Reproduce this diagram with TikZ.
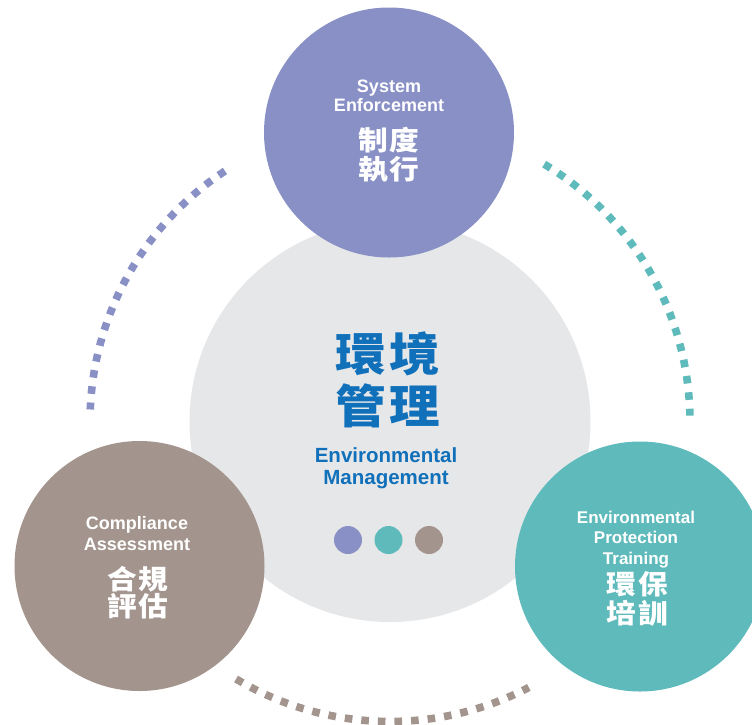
\documentclass[tikz,border=0pt]{standalone}
\usepackage{fontspec}
\setmainfont{Liberation Sans}
\newfontfamily\cjkfont[FakeStretch=1.1]{Noto Sans CJK TC}
\definecolor{ringgray}{HTML}{E6E7E9}
\definecolor{lavender}{HTML}{8890C6}
\definecolor{teal}{HTML}{5FBABB}
\definecolor{taupe}{HTML}{A3958E}
\definecolor{deepblue}{HTML}{1070BA}
\begin{document}
\begin{tikzpicture}[x=1pt,y=-1pt,
  disc/.style={circle, inner sep=0pt, minimum size=250pt},
  en/.style={text=white, anchor=base, inner sep=0pt, font=\bfseries\fontsize{18}{20}\selectfont},
  ensmall/.style={en, font=\bfseries\fontsize{17}{19}\selectfont},
  zh/.style={text=white, anchor=center, inner sep=0pt, font=\cjkfont\bfseries\fontsize{27}{27}\selectfont},
  dotarc/.style={line width=7.6pt, line cap=butt},
  chip/.style={circle, inner sep=0pt, minimum size=28pt}]
\useasboundingbox (0,0) rectangle (752,724);
\clip (0,0) rectangle (752,724);

% central hub
\node[circle, fill=ringgray, inner sep=0pt, minimum size=401pt] (hub) at (390,421.5) {};

% three satellite circles
\node[disc, fill=lavender] (enforce) at (389,132.5) {};
\node[disc, fill=taupe] (comply) at (139.5,566) {};
\node[disc, fill=teal] (train) at (640,566.5) {};

% dotted arcs between the satellites
\draw[dotarc, lavender, dash pattern=on 7.6pt off 8.72pt]
  ([shift={(hub.center)}]236.62:300) arc[start angle=236.62, end angle=182.3, radius=300];
\draw[dotarc, teal, dash pattern=on 7.6pt off 8.87pt]
  ([shift={(hub.center)}]300.93:300) arc[start angle=300.93, end angle=358.87, radius=300];
\draw[dotarc, taupe, dash pattern=on 7.6pt off 9.01pt]
  ([shift={(hub.center)}]120.87:300) arc[start angle=120.87, end angle=62.43, radius=300];

% hub labels
\node[text=deepblue, inner sep=0pt, font=\cjkfont\bfseries\fontsize{46}{46}\selectfont] (hubzh1) at (388,354) {環\hspace{3pt}境};
\node[text=deepblue, inner sep=0pt, font=\cjkfont\bfseries\fontsize{46}{46}\selectfont] (hubzh2) at (388,405.5) {管\hspace{3pt}理};
\node[en, text=deepblue, font=\bfseries\fontsize{20.5}{22}\selectfont] (huben1) at (386,462) {Environmental};
\node[en, text=deepblue, font=\bfseries\fontsize{20.5}{22}\selectfont] (huben2) at (386,484) {Management};

% colour chips
\node[chip, fill=lavender] (chipa) at (348,540) {};
\node[chip, fill=teal] (chipb) at (388.5,540) {};
\node[chip, fill=taupe] (chipc) at (429,540) {};

% System Enforcement
\node[en] (enfen1) at (389,92) {System};
\node[en] (enfen2) at (389,111.5) {Enforcement};
\node[zh] (enfzh1) at (389,140) {制\hspace{2pt}度};
\node[zh] (enfzh2) at (389,169.5) {執\hspace{2pt}行};

% Compliance Assessment
\node[en] (comen1) at (137,529.5) {Compliance};
\node[en] (comen2) at (137,550) {Assessment};
\node[zh] (comzh1) at (138,579) {合\hspace{2pt}規};
\node[zh] (comzh2) at (138,606.5) {評\hspace{2pt}估};

% Environmental Protection Training
\node[ensmall] (traen1) at (636,523) {Environmental};
\node[ensmall] (traen2) at (636,543.5) {Protection};
\node[ensmall] (traen3) at (636,564) {Training};
\node[zh] (trazh1) at (637.5,584) {環\hspace{2pt}保};
\node[zh] (trazh2) at (637.5,613.5) {培\hspace{2pt}訓};
\end{tikzpicture}
\end{document}
